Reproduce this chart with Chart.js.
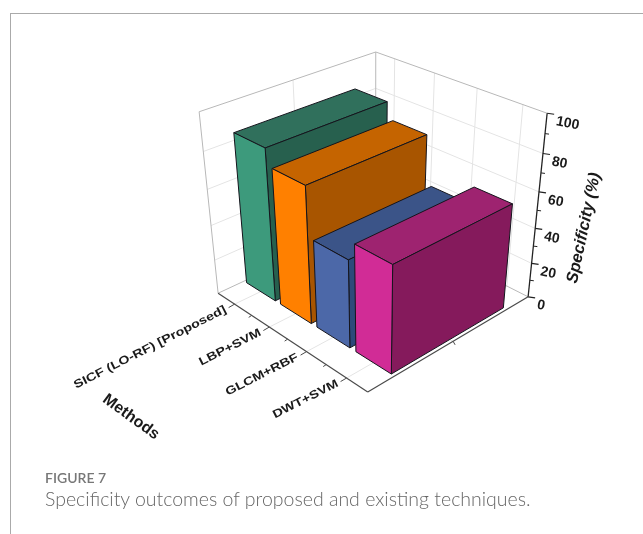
<!DOCTYPE html>
<html>
<head>
<meta charset="utf-8">
<script src="https://cdn.jsdelivr.net/npm/chart.js@4"></script>
<style>
    html, body { margin: 0; background: #fff; }
    #frame { position: absolute; left: 10px; top: 13px; width: 633px; height: 521px; border-left: 1px solid #aaa; border-top: 1px solid #aaa; }
    #myChart { position: absolute; left: 0; top: 0; }
    #fig { position: absolute; left: 45px; top: 469px; font: 600 14px Lato, sans-serif; color: #777; }
    #cap { position: absolute; left: 45px; top: 487px; font: 300 19.5px Lato, sans-serif; color: #666; white-space: nowrap; }
</style>
</head>
<body>
<div id="frame"></div>
<canvas id="myChart" width="643" height="534"></canvas>
<div id="fig">FIGURE 7</div>
<div id="cap">Specificity outcomes of proposed and existing techniques.</div>
<script>
const metodos = ['SICF (LO-RF) [Proposed]', 'LBP+SVM', 'GLCM+RBF', 'DWT+SVM'];
const especificidad = [85, 76, 49, 59];
const colorFrente = ['#3d9a7c', '#ff8000', '#4c68a8', '#d12c96'];
const colorLado = ['#27604e', '#a85500', '#2d4a7a', '#851a5c'];
const colorTecho = ['#30705c', '#c56400', '#3b5488', '#9e2370'];

// Profundidad de las barras sobre el eje sin etiquetas (0 a 1).
const fondoIni = 0.15;
const fondoFin = 0.85;

// Esquinas de la caja: [a, b, h] y su lugar en pantalla.
const esquinas = [
    [0, 0, 0, 218, 293],
    [1, 0, 0, 368, 392],
    [1, 1, 0, 528, 297],
    [0, 0, 1, 199, 112],
    [0, 1, 1, 376, 52],
    [1, 1, 1, 547, 113]
];

// Resuelve la proyeccion de la caja por minimos cuadrados.
function calcularProyeccion(pts){
    const filas = [];
    pts.forEach(([a, b, h, u, v]) => {
        filas.push([a, b, h, 1, 0, 0, 0, 0, -u * a, -u * b, -u * h, u]);
        filas.push([0, 0, 0, 0, a, b, h, 1, -v * a, -v * b, -v * h, v]);
    });
    const n = 11;
    const m = [];
    for (let i = 0; i < n; i++){
        m.push([]);
        for (let j = 0; j <= n; j++){
            let s = 0;
            filas.forEach(f => { s += f[i] * f[j]; });
            m[i].push(s);
        }
    }
    for (let i = 0; i < n; i++){
        let piv = i;
        for (let k = i + 1; k < n; k++){
            if (Math.abs(m[k][i]) > Math.abs(m[piv][i])) piv = k;
        }
        [m[i], m[piv]] = [m[piv], m[i]];
        for (let k = 0; k < n; k++){
            if (k === i) continue;
            const f = m[k][i] / m[i][i];
            for (let j = i; j <= n; j++) m[k][j] -= f * m[i][j];
        }
    }
    return m.map((fila, i) => fila[n] / fila[i]);
}

const p = calcularProyeccion(esquinas);

function proyectar(a, b, h){
    const w = p[8] * a + p[9] * b + p[10] * h + 1;
    return [(p[0] * a + p[1] * b + p[2] * h + p[3]) / w, (p[4] * a + p[5] * b + p[6] * h + p[7]) / w];
}

function linea(ctx, q1, q2, color, grosor){
    ctx.strokeStyle = color;
    ctx.lineWidth = grosor;
    ctx.beginPath();
    ctx.moveTo(q1[0], q1[1]);
    ctx.lineTo(q2[0], q2[1]);
    ctx.stroke();
}

function cara(ctx, puntos, color){
    ctx.fillStyle = color;
    ctx.strokeStyle = '#14141c';
    ctx.lineWidth = 1;
    ctx.lineJoin = 'round';
    ctx.beginPath();
    puntos.forEach((q, i) => i ? ctx.lineTo(q[0], q[1]) : ctx.moveTo(q[0], q[1]));
    ctx.closePath();
    ctx.fill();
    ctx.stroke();
}

function texto(ctx, str, x, y, ang, font, align, estira){
    ctx.save();
    ctx.translate(x, y);
    ctx.rotate(ang * Math.PI / 180);
    ctx.scale(estira, 1);
    ctx.font = font;
    ctx.fillStyle = '#1a1a1a';
    ctx.textAlign = align;
    ctx.textBaseline = 'middle';
    ctx.fillText(str, 0, 0);
    ctx.restore();
}

const caja3d = {
    id: 'caja3d',
    // Paredes, rejilla y ejes
    beforeDatasetsDraw(chart){
        const ctx = chart.ctx;
        const xs = chart.scales.x;
        const ys = chart.scales.y;
        const gris = '#e4e4e4';
        const borde = '#b8b8b8';

        ctx.save();
        ys.ticks.forEach(t => {
            const h = (ys.bottom - ys.getPixelForValue(t.value)) / ys.height;
            if (h <= 0 || h >= 1) return;
            linea(ctx, proyectar(0, 0, h), proyectar(0, 1, h), gris, 1);
            linea(ctx, proyectar(0, 1, h), proyectar(1, 1, h), gris, 1);
        });
        metodos.forEach((m, i) => {
            const a = (xs.getPixelForValue(i) - xs.left) / xs.width;
            linea(ctx, proyectar(a, 1, 0), proyectar(a, 1, 1), gris, 1);
            linea(ctx, proyectar(a, 0, 0), proyectar(a, 1, 0), gris, 1);
        });
        linea(ctx, proyectar(0, 0.5, 0), proyectar(0, 0.5, 1), gris, 1);
        linea(ctx, proyectar(0, 0.5, 0), proyectar(1, 0.5, 0), gris, 1);

        linea(ctx, proyectar(0, 0, 0), proyectar(0, 0, 1), borde, 1);
        linea(ctx, proyectar(0, 0, 1), proyectar(0, 1, 1), borde, 1);
        linea(ctx, proyectar(0, 1, 1), proyectar(1, 1, 1), borde, 1);
        linea(ctx, proyectar(0, 1, 0), proyectar(0, 1, 1), borde, 1);
        linea(ctx, proyectar(0, 0, 0), proyectar(0, 1, 0), borde, 1);
        linea(ctx, proyectar(0, 1, 0), proyectar(1, 1, 0), borde, 1);

        // Ejes oscuros
        const oscuro = '#4a4a4a';
        linea(ctx, proyectar(0, 0, 0), proyectar(1, 0, 0), oscuro, 1.2);
        linea(ctx, proyectar(1, 0, 0), proyectar(1, 1, 0), oscuro, 1.2);
        linea(ctx, proyectar(1, 1, 0), proyectar(1, 1, 1), '#222', 1.3);

        metodos.forEach((m, i) => {
            const a = (xs.getPixelForValue(i) - xs.left) / xs.width;
            const q = proyectar(a, 0, 0);
            linea(ctx, q, [q[0] - 6, q[1] + 3.5], oscuro, 1);
            texto(ctx, xs.getLabelForValue(i), q[0] - 9, q[1] + 5, -27, 'bold 11.5px "Liberation Sans"', 'right', 1.245);
            if (i > 0){
                const a2 = i / metodos.length;
                const q2 = proyectar(a2, 0, 0);
                linea(ctx, q2, [q2[0] - 3, q2[1] + 2], oscuro, 1);
            }
        });
        const qm = proyectar(1, 0.5, 0);
        linea(ctx, qm, [qm[0] + 2, qm[1] + 3.5], oscuro, 1);

        ys.ticks.forEach(t => {
            const h = (ys.bottom - ys.getPixelForValue(t.value)) / ys.height;
            const q = proyectar(1, 1, h);
            linea(ctx, q, [q[0] + 7, q[1] + 1], '#222', 1.2);
            texto(ctx, t.label, q[0] + 9, q[1] + 8, 11, 'bold 14px "Liberation Sans"', 'left', 1);
            if (t.value < ys.max){
                const q2 = proyectar(1, 1, (ys.bottom - ys.getPixelForValue(t.value + ys.options.ticks.stepSize / 2)) / ys.height);
                linea(ctx, q2, [q2[0] + 4, q2[1] + 0.5], '#222', 1);
            }
        });

        texto(ctx, 'Specificity (%)', 584, 228, -78, 'italic bold 16.5px "Liberation Sans"', 'center', 1);
        texto(ctx, 'Methods', 131, 417, 36, 'bold 16px "Liberation Sans"', 'center', 1);
        ctx.restore();
    },
    // Cada barra se dibuja como caja, de atras hacia adelante
    afterDatasetsDraw(chart){
        const ctx = chart.ctx;
        const xs = chart.scales.x;
        const ys = chart.scales.y;
        const barras = chart.getDatasetMeta(0).data;

        ctx.save();
        barras.forEach((el, i) => {
            const a0 = (el.x - el.width / 2 - xs.left) / xs.width;
            const a1 = (el.x + el.width / 2 - xs.left) / xs.width;
            const h = (ys.bottom - el.y) / ys.height;
            cara(ctx, [proyectar(a0, fondoIni, h), proyectar(a0, fondoFin, h), proyectar(a1, fondoFin, h), proyectar(a1, fondoIni, h)], colorTecho[i]);
            cara(ctx, [proyectar(a1, fondoIni, 0), proyectar(a1, fondoFin, 0), proyectar(a1, fondoFin, h), proyectar(a1, fondoIni, h)], colorLado[i]);
            cara(ctx, [proyectar(a0, fondoIni, 0), proyectar(a1, fondoIni, 0), proyectar(a1, fondoIni, h), proyectar(a0, fondoIni, h)], colorFrente[i]);
        });
        ctx.restore();
    }
};

new Chart(document.getElementById('myChart'), {
    type: 'bar',
    data: {
        labels: metodos,
        datasets: [{
            label: 'Specificity (%)',
            data: especificidad,
            backgroundColor: 'rgba(0,0,0,0)',
            barPercentage: 0.85,
            categoryPercentage: 1
        }]
    },
    options: {
        responsive: false,
        animation: false,
        plugins: { legend: { display: false }, tooltip: { enabled: false } },
        scales: {
            x: { display: false },
            y: { display: false, min: 0, max: 100, ticks: { stepSize: 20 } }
        }
    },
    plugins: [caja3d]
});
</script>
</body>
</html>
